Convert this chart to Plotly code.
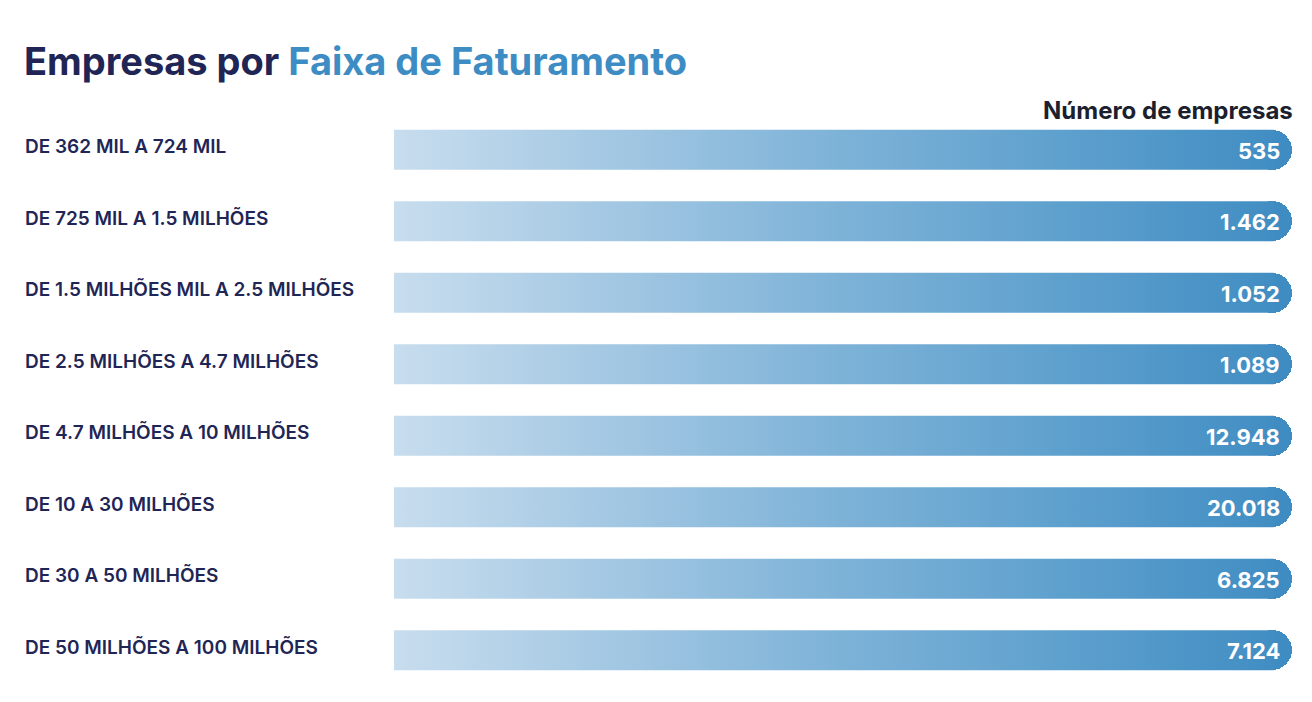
import plotly.graph_objects as go

categories = [
    "DE 362 MIL A 724 MIL",
    "DE 725 MIL A 1.5 MILHÕES",
    "DE 1.5 MILHÕES MIL A 2.5 MILHÕES",
    "DE 2.5 MILHÕES A 4.7 MILHÕES",
    "DE 4.7 MILHÕES A 10 MILHÕES",
    "DE 10 A 30 MILHÕES",
    "DE 30 A 50 MILHÕES",
    "DE 50 MILHÕES A 100 MILHÕES",
]
empresas = [535, 1462, 1052, 1089, 12948, 20018, 6825, 7124]

title_dark = "Empresas por"
title_blue = "Faixa de Faturamento"
value_header = "Número de empresas"

W, H = 1312, 702
ML, MR, MT, MB = 394, 20, 114, 16
plot_w = W - ML - MR
n = len(categories)
bar_full = 1.0          # every row drawn at full width (infographic style)
bar_w = 0.56            # fraction of row height
radius_px = 20
cap = radius_px / plot_w

FONT = "Inter"
NAVY = "#1f2656"
BLUE = "#3d8cc4"
END = "#3f8cc2"
grad = [[0.0, "#c8ddee"], [0.46, "#82b5d9"], [0.76, "#5c9fcd"], [1.0, "#3f8cc2"]]

fig = go.Figure()
ys = list(range(n))
# rounded end caps
fig.add_trace(go.Bar(
    x=[2 * cap] * n, base=[bar_full - 2 * cap] * n, y=ys, orientation="h", width=bar_w,
    marker=dict(color=END, cornerradius=radius_px, line=dict(width=0)),
    hoverinfo="skip", showlegend=False,
))
# gradient bodies
for i in ys:
    x0, x1 = 0, bar_full - cap + 0.002
    y0, y1 = i - bar_w / 2, i + bar_w / 2
    fig.add_trace(go.Scatter(
        x=[x0, x1, x1, x0, x0], y=[y0, y0, y1, y1, y0],
        mode="lines", line=dict(width=0), fill="toself",
        fillgradient=dict(type="horizontal", colorscale=grad, start=0, stop=bar_full),
        hoverinfo="skip", showlegend=False,
    ))

ann = []
for i, (c, v) in enumerate(zip(categories, empresas)):
    ann.append(dict(
        x=0, y=i, xref="x", yref="y", xanchor="left", yanchor="middle",
        xshift=-(ML - 23), yshift=3, showarrow=False, text=c,
        font=dict(family=FONT, size=19, color=NAVY, weight=600),
    ))
    ann.append(dict(
        x=bar_full, y=i, xref="x", yref="y", xanchor="right", yanchor="middle",
        xshift=-10, yshift=-1, showarrow=False, text=f"{v:,}".replace(",", "."),
        font=dict(family=FONT, size=22, color="white", weight=700),
    ))
ann.append(dict(
    x=0, y=1, xref="paper", yref="paper", xanchor="left", yanchor="bottom",
    xshift=-(ML - 22), yshift=28, showarrow=False,
    text=f"<span style='color:{NAVY}'>{title_dark}</span> <span style='color:{BLUE}'>{title_blue}</span>",
    font=dict(family=FONT, size=38, weight=700),
))
ann.append(dict(
    x=1, y=1, xref="paper", yref="paper", xanchor="right", yanchor="bottom",
    showarrow=False, xshift=3, yshift=-13, text=value_header,
    font=dict(family=FONT, size=24, color="#1c1f2e", weight=700),
))

fig.update_layout(
    width=W, height=H, margin=dict(l=ML, r=MR, t=MT, b=MB),
    paper_bgcolor="white", plot_bgcolor="white",
    xaxis=dict(range=[0, bar_full], visible=False, fixedrange=True),
    yaxis=dict(range=[n - 0.5, -0.5], visible=False, fixedrange=True),
    annotations=ann, bargap=0,
)
fig.write_html("out.html")
